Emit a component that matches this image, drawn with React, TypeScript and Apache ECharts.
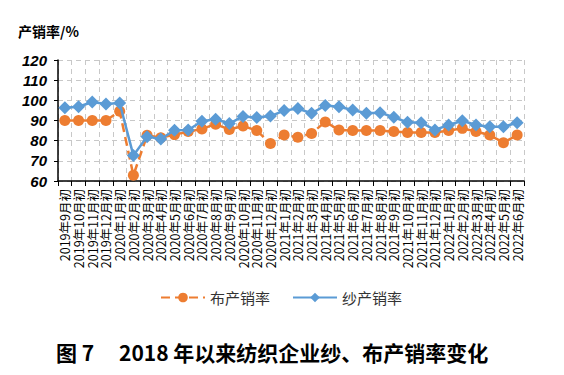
import React, { useEffect, useRef } from "react";
import * as echarts from "echarts";

const categories = [
  "2019年9月初", "2019年10月初", "2019年11月初", "2019年12月初",
  "2020年1月初", "2020年2月初", "2020年3月初", "2020年4月初", "2020年5月初", "2020年6月初",
  "2020年7月初", "2020年8月初", "2020年9月初", "2020年10月初", "2020年11月初", "2020年12月初",
  "2021年1月初", "2021年2月初", "2021年3月初", "2021年4月初", "2021年5月初", "2021年6月初",
  "2021年7月初", "2021年8月初", "2021年9月初", "2021年10月初", "2021年11月初", "2021年12月初",
  "2022年1月初", "2022年2月初", "2022年3月初", "2022年4月初", "2022年5月初", "2022年6月初",
];

const clothRate = [
  90, 90, 90, 90, 94.6, 62.8, 82.7, 81.5, 83, 84.5, 85.8, 88.2, 85.5, 87.3, 85, 78.6,
  82.8, 81.7, 83.6, 89.3, 85.3, 85, 85, 85, 84.5, 84.1, 84.1, 84, 85, 86.1, 84.5, 82.8, 79, 82.8,
];

const yarnRate = [
  96.3, 96.8, 99.2, 98.2, 98.7, 72.7, 82, 80.8, 85.2, 85.3, 89.6, 90.6, 88.5, 92, 91.5, 92.2,
  94.9, 95.9, 93.6, 97.4, 96.8, 95.2, 93.6, 93.9, 91.6, 89.1, 88.9, 85.3, 87.8, 89.9, 87.8, 86.9, 86.9, 88.9,
];

const seriesNames = ["布产销率", "纱产销率"];

export default function App() {
  const ref = useRef<HTMLDivElement>(null);
  useEffect(() => {
    if (!ref.current) return;
    const chart = echarts.init(ref.current, null, { renderer: "svg" });
    chart.setOption({
      animation: false,
      backgroundColor: "#ffffff",
      title: [
        {
          text: "产销率/%",
          left: 13,
          top: 19,
          textStyle: { fontSize: 14, fontWeight: "bold", color: "#000", fontFamily: "Noto Sans CJK SC" },
        },
      ],
      graphic: [
        {
          type: "text",
          left: 56,
          top: 341,
          style: { text: "图 7", fontSize: 21, fontWeight: "bold", fill: "#000", fontFamily: "Noto Sans CJK SC" },
        },
        {
          type: "text",
          left: 119,
          top: 341,
          style: {
            text: "2018 年以来纺织企业纱、布产销率变化",
            fontSize: 21,
            fontWeight: "bold",
            fill: "#000",
            fontFamily: "Noto Sans CJK SC",
          },
        },
      ],
      legend: {
        data: seriesNames,
        top: 285,
        left: 155,
        itemGap: 22,
        itemWidth: 44,
        itemHeight: 12,
        textStyle: { fontSize: 15, color: "#333", fontFamily: "Noto Sans CJK SC" },
      },
      grid: { left: 58, right: 40, top: 60, bottom: 194, containLabel: false },
      xAxis: {
        type: "category",
        data: categories,
        boundaryGap: true,
        axisLine: { lineStyle: { color: "#000", width: 1.5 } },
        axisTick: { show: true, alignWithLabel: false, length: 5, lineStyle: { color: "#000" } },
        axisLabel: {
          rotate: 90,
          interval: 0,
          fontSize: 12.5,
          color: "#000",
          margin: 8,
          fontFamily: "Noto Sans CJK SC",
        },
        splitLine: { show: true, lineStyle: { color: "#c8c8c8", type: [5, 4] } },
      },
      yAxis: {
        type: "value",
        min: 60,
        max: 120,
        interval: 10,
        axisLine: { show: true, lineStyle: { color: "#000", width: 1.5 } },
        axisTick: { show: true, length: 4, lineStyle: { color: "#000" } },
        axisLabel: {
          fontSize: 15,
          fontWeight: "bold",
          fontStyle: "italic",
          color: "#000",
          margin: 11,
          fontFamily: "Liberation Sans",
        },
        splitLine: { show: true, lineStyle: { color: "#c8c8c8", type: [5, 4] } },
      },
      series: [
        {
          name: seriesNames[0],
          type: "line",
          data: clothRate,
          symbol: "circle",
          symbolSize: 11,
          itemStyle: { color: "#ED7D31" },
          lineStyle: { color: "#ED7D31", width: 2.5, type: [9, 5] },
          z: 2,
        },
        {
          name: seriesNames[1],
          type: "line",
          data: yarnRate,
          symbol: "diamond",
          symbolSize: 13,
          itemStyle: { color: "#5B9BD5" },
          lineStyle: { color: "#5B9BD5", width: 2.5 },
          z: 3,
        },
      ],
    });
    return () => chart.dispose();
  }, []);
  return <div ref={ref} style={{ width: 564, height: 375, position: "absolute", left: 0, top: 0 }} />;
}
